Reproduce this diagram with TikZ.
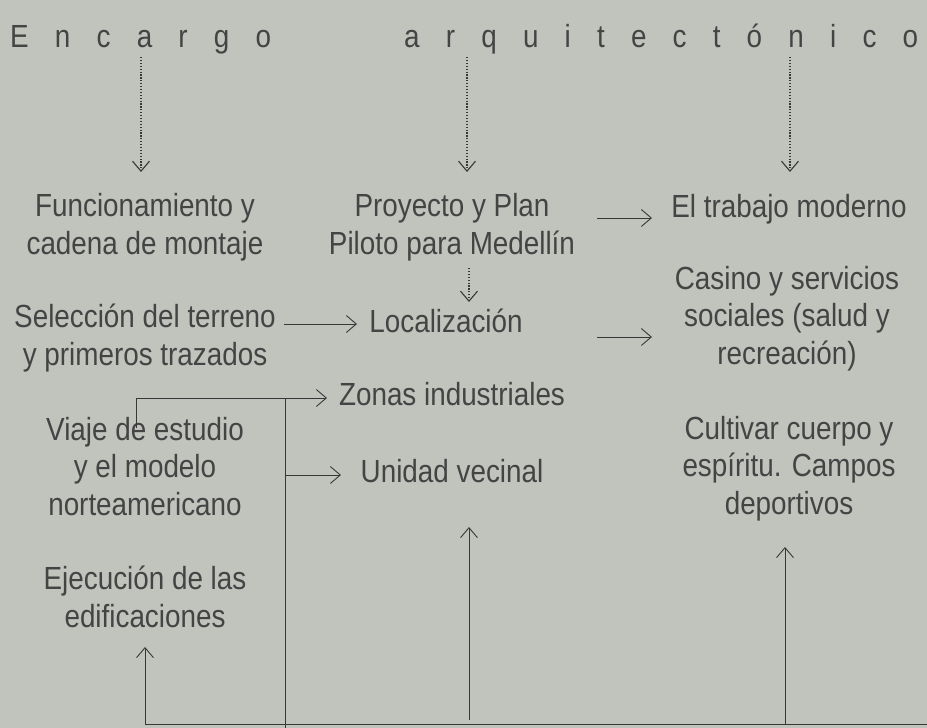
\documentclass[tikz,border=0pt]{standalone}
\usepackage{fontspec}
\setmainfont{Liberation Sans}[FakeStretch=0.87]
\usetikzlibrary{arrows.meta}
\definecolor{bg}{RGB}{192,196,189}
\definecolor{ink}{RGB}{68,68,68}
\definecolor{lnc}{RGB}{55,55,55}
\newcommand{\gp}{\hspace{26.2pt}}
\begin{document}
\begin{tikzpicture}[x=1pt,y=-1pt,
  lbl/.style={font=\fontsize{32}{37.5}\selectfont, text=ink, align=center, inner sep=0pt, anchor=base},
  ttl/.style={font=\fontsize{32}{37.5}\selectfont, text=ink, inner sep=0pt, anchor=base west},
  arr/.style={draw=lnc, line width=0.9pt, -{Straight Barb[length=10pt,width=17pt]}},
  dots/.style={arr, line width=1.1pt, dash pattern=on 1.2pt off 1.7pt},
  plain/.style={draw=lnc, line width=0.9pt}]
\fill[bg] (0,0) rectangle (927,728);
\useasboundingbox (0,0) rectangle (927,728);

% title
\node[ttl] (t1) at (10,47) {E\gp n\gp c\gp a\gp r\gp g\gp o};
\node[ttl] (t2) at (404,47) {a\gp r\gp q\gp u\gp i\gp t\gp e\gp c\gp t\gp ó\gp n\gp i\gp c\gp o};

% nodes (positioned by the baseline of their last line)
\node[lbl] (fun) at (145,254) {Funcionamiento y\\cadena de montaje};
\node[lbl] (sel) at (145,365) {Selección del terreno\\y primeros trazados};
\node[lbl] (via) at (145,515) {Viaje de estudio\\y el modelo\\norteamericano};
\node[lbl] (eje) at (145,627) {Ejecución de las\\edificaciones};
\node[lbl] (pro) at (452,254) {Proyecto y Plan\\Piloto para Medellín};
\node[lbl] (loc) at (446,332) {Localización};
\node[lbl] (zon) at (452,405) {Zonas industriales};
\node[lbl] (uni) at (452,482) {Unidad vecinal};
\node[lbl] (tra) at (789,217) {El trabajo moderno};
\node[lbl] (cas) at (787,364) {Casino y servicios\\sociales (salud y\\recreación)};
\node[lbl] (cul) at (789,514) {Cultivar cuerpo y\\espíritu. Campos\\deportivos};

% coordinates
\coordinate (d1s) at (141,57);  \coordinate (d1e) at (141,172);
\coordinate (d2s) at (467,57);  \coordinate (d2e) at (467,172);
\coordinate (d3s) at (790,57);  \coordinate (d3e) at (790,172);
\coordinate (d4s) at (469,268); \coordinate (d4e) at (469,302);
\coordinate (s1) at (284,324);  \coordinate (s1e) at (357,324);
\coordinate (r1) at (597,218);  \coordinate (r1e) at (652,218);
\coordinate (r2) at (597,337);  \coordinate (r2e) at (652,337);
\coordinate (v1) at (136,428);  \coordinate (z1) at (327,398);
\coordinate (b1) at (285,398);  \coordinate (b2) at (285,728);
\coordinate (u1) at (285,475);  \coordinate (u1e) at (341,475);
\coordinate (h1) at (927,724);  \coordinate (e1) at (145,647);
\coordinate (m1) at (469,720);  \coordinate (m1e) at (469,527);
\coordinate (c1) at (785,724);  \coordinate (c1e) at (785,547);

% dotted arrows
\draw[dots] (d1s) -- (d1e);
\draw[dots] (d2s) -- (d2e);
\draw[dots] (d3s) -- (d3e);
\draw[dots] (d4s) -- (d4e);

% solid arrows
\draw[arr] (s1) -- (s1e);
\draw[arr] (r1) -- (r1e);
\draw[arr] (r2) -- (r2e);
\draw[arr] (v1) |- (z1);
\draw[plain] (b1) -- (b2);
\draw[arr] (u1) -- (u1e);
\draw[arr] (h1) -| (e1);
\draw[arr] (m1) -- (m1e);
\draw[arr] (c1) -- (c1e);
\end{tikzpicture}
\end{document}
